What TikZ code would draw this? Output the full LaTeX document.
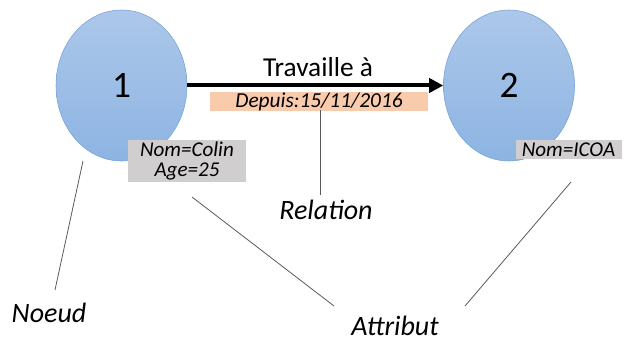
\documentclass[tikz,border=0pt]{standalone}
\usepackage{fontspec}
\setmainfont{Carlito}
\usetikzlibrary{shapes.geometric,arrows.meta}
\definecolor{noeudhaut}{RGB}{172,199,234}
\definecolor{noeudbas}{RGB}{141,180,226}
\definecolor{noeudbord}{RGB}{116,161,214}
\definecolor{relfond}{RGB}{248,203,173}
\definecolor{attrfond}{RGB}{208,206,206}
\tikzset{
  sommet/.style={ellipse, draw=noeudbord, top color=noeudhaut, bottom color=noeudbas,
    minimum width=98.25pt, minimum height=113.25pt, font=\fontsize{28}{30}\selectfont},
  attr/.style={fill=attrfond, inner sep=0pt, align=center, font=\itshape\fontsize{15.8}{15}\selectfont},
  legende/.style={inner sep=0pt, font=\itshape\fontsize{21}{24}\selectfont},
  trait/.style={black!65, line width=0.6pt}
}
\begin{document}
\begin{tikzpicture}[x=0.75pt, y=-0.75pt]
    \useasboundingbox (0,0) rectangle (624,342);

    % les deux noeuds
    \node[sommet] (n1) at (121.5,85.5) {1};
    \node[sommet] (n2) at (509,85.5) {2};

    % la relation
    \draw[line width=3pt, -{Triangle[length=10.5pt, width=10.5pt]}] (n1) -- (n2);
    \node[font=\fontsize{20.5}{22}\selectfont] (travail) at (318,67) {Travaille à};
    \node[fill=relfond, minimum width=163.5pt, minimum height=14.25pt, inner sep=0pt,
          font=\itshape\fontsize{16}{16}\selectfont] (depuis) at (319,101.5) {Depuis:15/11/2016};

    % les attributs
    \node[attr, minimum width=88.5pt, minimum height=31.5pt] (attr1) at (187,161) {Nom=Colin\\Age=25};
    \node[attr, minimum width=79.5pt, minimum height=14.25pt] (attr2) at (568.5,149.5) {Nom=ICOA};

    % les legendes
    \node[legende] (relation) at (326,210) {Relation};
    \node[legende] (lnoeud) at (49,313) {Noeud};
    \node[legende] (attribut) at (395,326) {Attribut};

    % les traits de rappel
    \coordinate (r0) at (320,110);
    \coordinate (r1) at (320,195);
    \draw[trait] (r0) -- (r1);
    \coordinate (s0) at (83,161);
    \coordinate (s1) at (55,290);
    \draw[trait] (s0) -- (s1);
    \coordinate (p0) at (192,197);
    \coordinate (p1) at (334,306);
    \draw[trait] (p0) -- (p1);
    \coordinate (q0) at (571,182);
    \coordinate (q1) at (465,306);
    \draw[trait] (q0) -- (q1);
\end{tikzpicture}
\end{document}
